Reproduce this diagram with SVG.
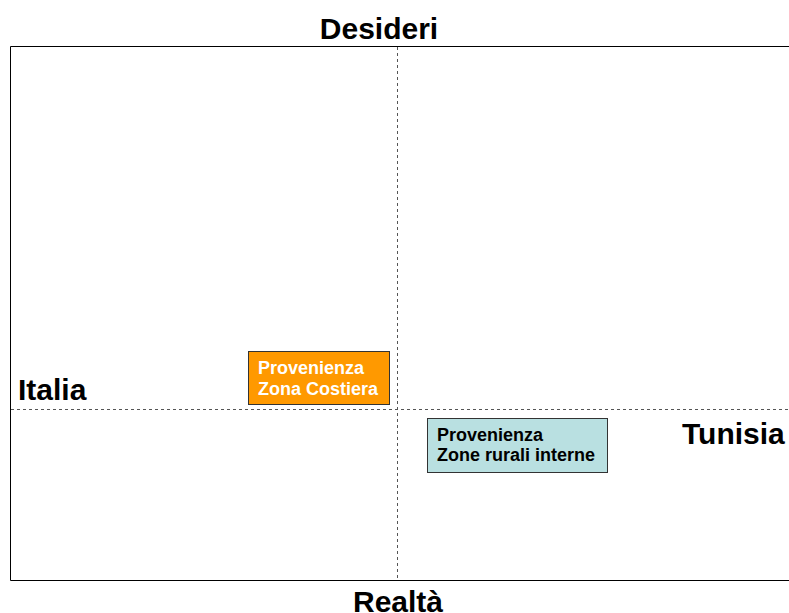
<svg xmlns="http://www.w3.org/2000/svg" width="789" height="613" viewBox="0 0 789 613">
<style>
.lbl{font-family:"Liberation Sans",Arial,sans-serif;font-weight:bold;font-size:30px;fill:#000}
.box{font-family:"Liberation Sans",Arial,sans-serif;font-weight:bold;font-size:18px}
.axis{stroke:#555;stroke-width:1;stroke-dasharray:3,3;fill:none}
</style>
<rect width="789" height="613" fill="#fff"/>
<g id="frame">
<path d="M800,46.5 H10.5 V580.5 H800" fill="none" stroke="#000" stroke-width="1"/>
</g>
<g id="connectors">
<line class="axis" x1="397.5" y1="47" x2="397.5" y2="580"/>
<line class="axis" x1="11" y1="409.5" x2="789" y2="409.5"/>
</g>
<g id="desideri"><text class="lbl" x="379" y="39" text-anchor="middle">Desideri</text></g>
<g id="realta"><text class="lbl" x="398" y="612" text-anchor="middle">Realtà</text></g>
<g id="italia"><text class="lbl" x="18" y="400">Italia</text></g>
<g id="tunisia"><text class="lbl" x="682" y="444">Tunisia</text></g>
<g id="costiera">
<rect x="248.5" y="351.5" width="141" height="53" fill="#FF9900" stroke="#333" stroke-width="1"/>
<text class="box" fill="#fff" x="258" y="374">Provenienza</text>
<text class="box" fill="#fff" x="258" y="395">Zona Costiera</text>
</g>
<g id="rurali">
<rect x="427.5" y="418.5" width="180" height="54" fill="#B9E0E1" stroke="#333" stroke-width="1"/>
<text class="box" fill="#000" x="437" y="441">Provenienza</text>
<text class="box" fill="#000" x="437" y="461">Zone rurali interne</text>
</g>
</svg>
